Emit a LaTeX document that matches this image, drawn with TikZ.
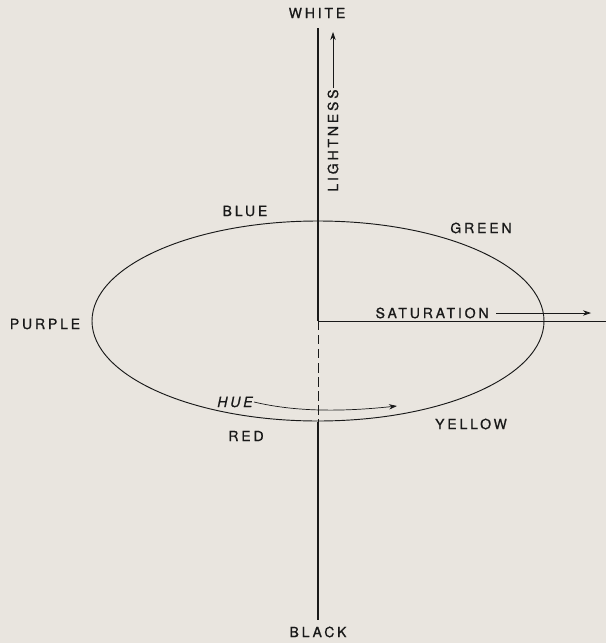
\documentclass[tikz,border=0pt]{standalone}
\usepackage{fontspec}
\setmainfont[LetterSpace=20,FakeBold=0.8]{TeX Gyre Heros}
\usetikzlibrary{arrows.meta,positioning}
\definecolor{paper}{RGB}{233,229,223}
\definecolor{ink}{RGB}{25,25,25}

\begin{document}
\begin{tikzpicture}[x=0.03cm,y=-0.03cm,
  lbl/.style={text=ink,font=\fontsize{12}{14}\selectfont,inner sep=1pt},
  axis/.style={draw=ink,line width=1.5pt},
  arr/.style={-{Stealth[length=2.4mm,width=1.6mm]},draw=ink,semithick}
]
  \fill[paper] (0,0) rectangle (606,643);
  \useasboundingbox (0,0) rectangle (606,643);

  % Axis points: white top, black bottom, centre of the hue circle
  \coordinate (top)   at (318,28);
  \coordinate (bot)   at (318,620);
  \coordinate (ctr)   at (318,321);
  \coordinate (front) at (318,422);
  \coordinate (edge)  at (606,321);

  % Hue ellipse
  \draw[ink,thick] (ctr) ellipse [x radius=226, y radius=100];

  % Lightness axis: solid above, dashed behind the circle, solid below
  \draw[axis] (top) -- (ctr);
  \draw[ink,thick,dash pattern=on 8pt off 4pt] (ctr) -- (front);
  \draw[axis] (front) -- (bot);

  % Saturation radius
  \draw[ink,thick] (ctr) -- (edge);

  % Pole and hue labels
  \node[lbl] (white)  at (317,13)  {WHITE};
  \node[lbl] (black)  at (318,632) {BLACK};
  \node[lbl] (blue)   at (245,211) {BLUE};
  \node[lbl] (green)  at (481,228) {GREEN};
  \node[lbl] (purple) at (45,324)  {PURPLE};
  \node[lbl] (red)    at (246,436) {RED};
  \node[lbl] (yellow) at (471,424) {YELLOW};

  % Lightness: text going up, arrow to the top
  \node[lbl,rotate=90,anchor=west] (light) at (333,193) {LIGHTNESS};
  \coordinate (lighttip) at (333,32);
  \draw[arr] (light.east) -- (lighttip);

  % Saturation: text then arrow outwards
  \node[lbl,anchor=east] (sat) at (490,313) {SATURATION};
  \coordinate (sattip) at (591,313);
  \draw[arr] (sat.east) ++(6,0) -- (sattip);

  % Hue: curved arrow along the front of the circle
  \node[lbl,anchor=east] (hue) at (254,402) {\itshape HUE};
  \coordinate (huetip) at (397,406);
  \draw[arr] (hue.east) .. controls (300,413) and (350,411) .. (huetip);
\end{tikzpicture}
\end{document}
